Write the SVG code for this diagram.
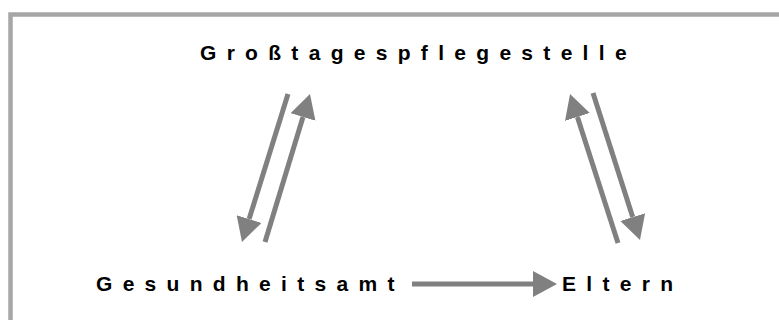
<svg xmlns="http://www.w3.org/2000/svg" width="779" height="320" viewBox="0 0 779 320">
<style>
.lbl{font-family:"Liberation Sans",Arial,sans-serif;font-size:21px;font-weight:bold;letter-spacing:10.3px;fill:#000}
.con{stroke:#808080;stroke-width:5;fill:none}
</style>
<defs>
<marker id="ah" viewBox="0 0 24 26" refX="0" refY="13" markerWidth="24" markerHeight="26" markerUnits="userSpaceOnUse" orient="auto">
<path d="M0,0 L24,13 L0,26 Z" fill="#808080"/>
</marker>
</defs>
<rect x="0" y="0" width="779" height="320" fill="#fff"/>
<rect x="10.5" y="14.5" width="900" height="400" fill="none" stroke="#a6a6a6" stroke-width="4.5"/>
<g id="grosstagespflegestelle"><text class="lbl" x="200" y="59.5">Großtagespflegestelle</text></g>
<g id="gesundheitsamt"><text class="lbl" x="96" y="291">Gesundheitsamt</text></g>
<g id="eltern"><text class="lbl" x="562" y="291">Eltern</text></g>
<g id="connectors">
<path class="con" d="M288,94 L249.1,219.1" marker-end="url(#ah)"/>
<path class="con" d="M265,242 L303,117" marker-end="url(#ah)"/>
<path class="con" d="M618,243 L577.4,116.9" marker-end="url(#ah)"/>
<path class="con" d="M593,93 L632.7,217.1" marker-end="url(#ah)"/>
<path class="con" d="M412,284 L533,284" marker-end="url(#ah)"/>
</g>
</svg>
